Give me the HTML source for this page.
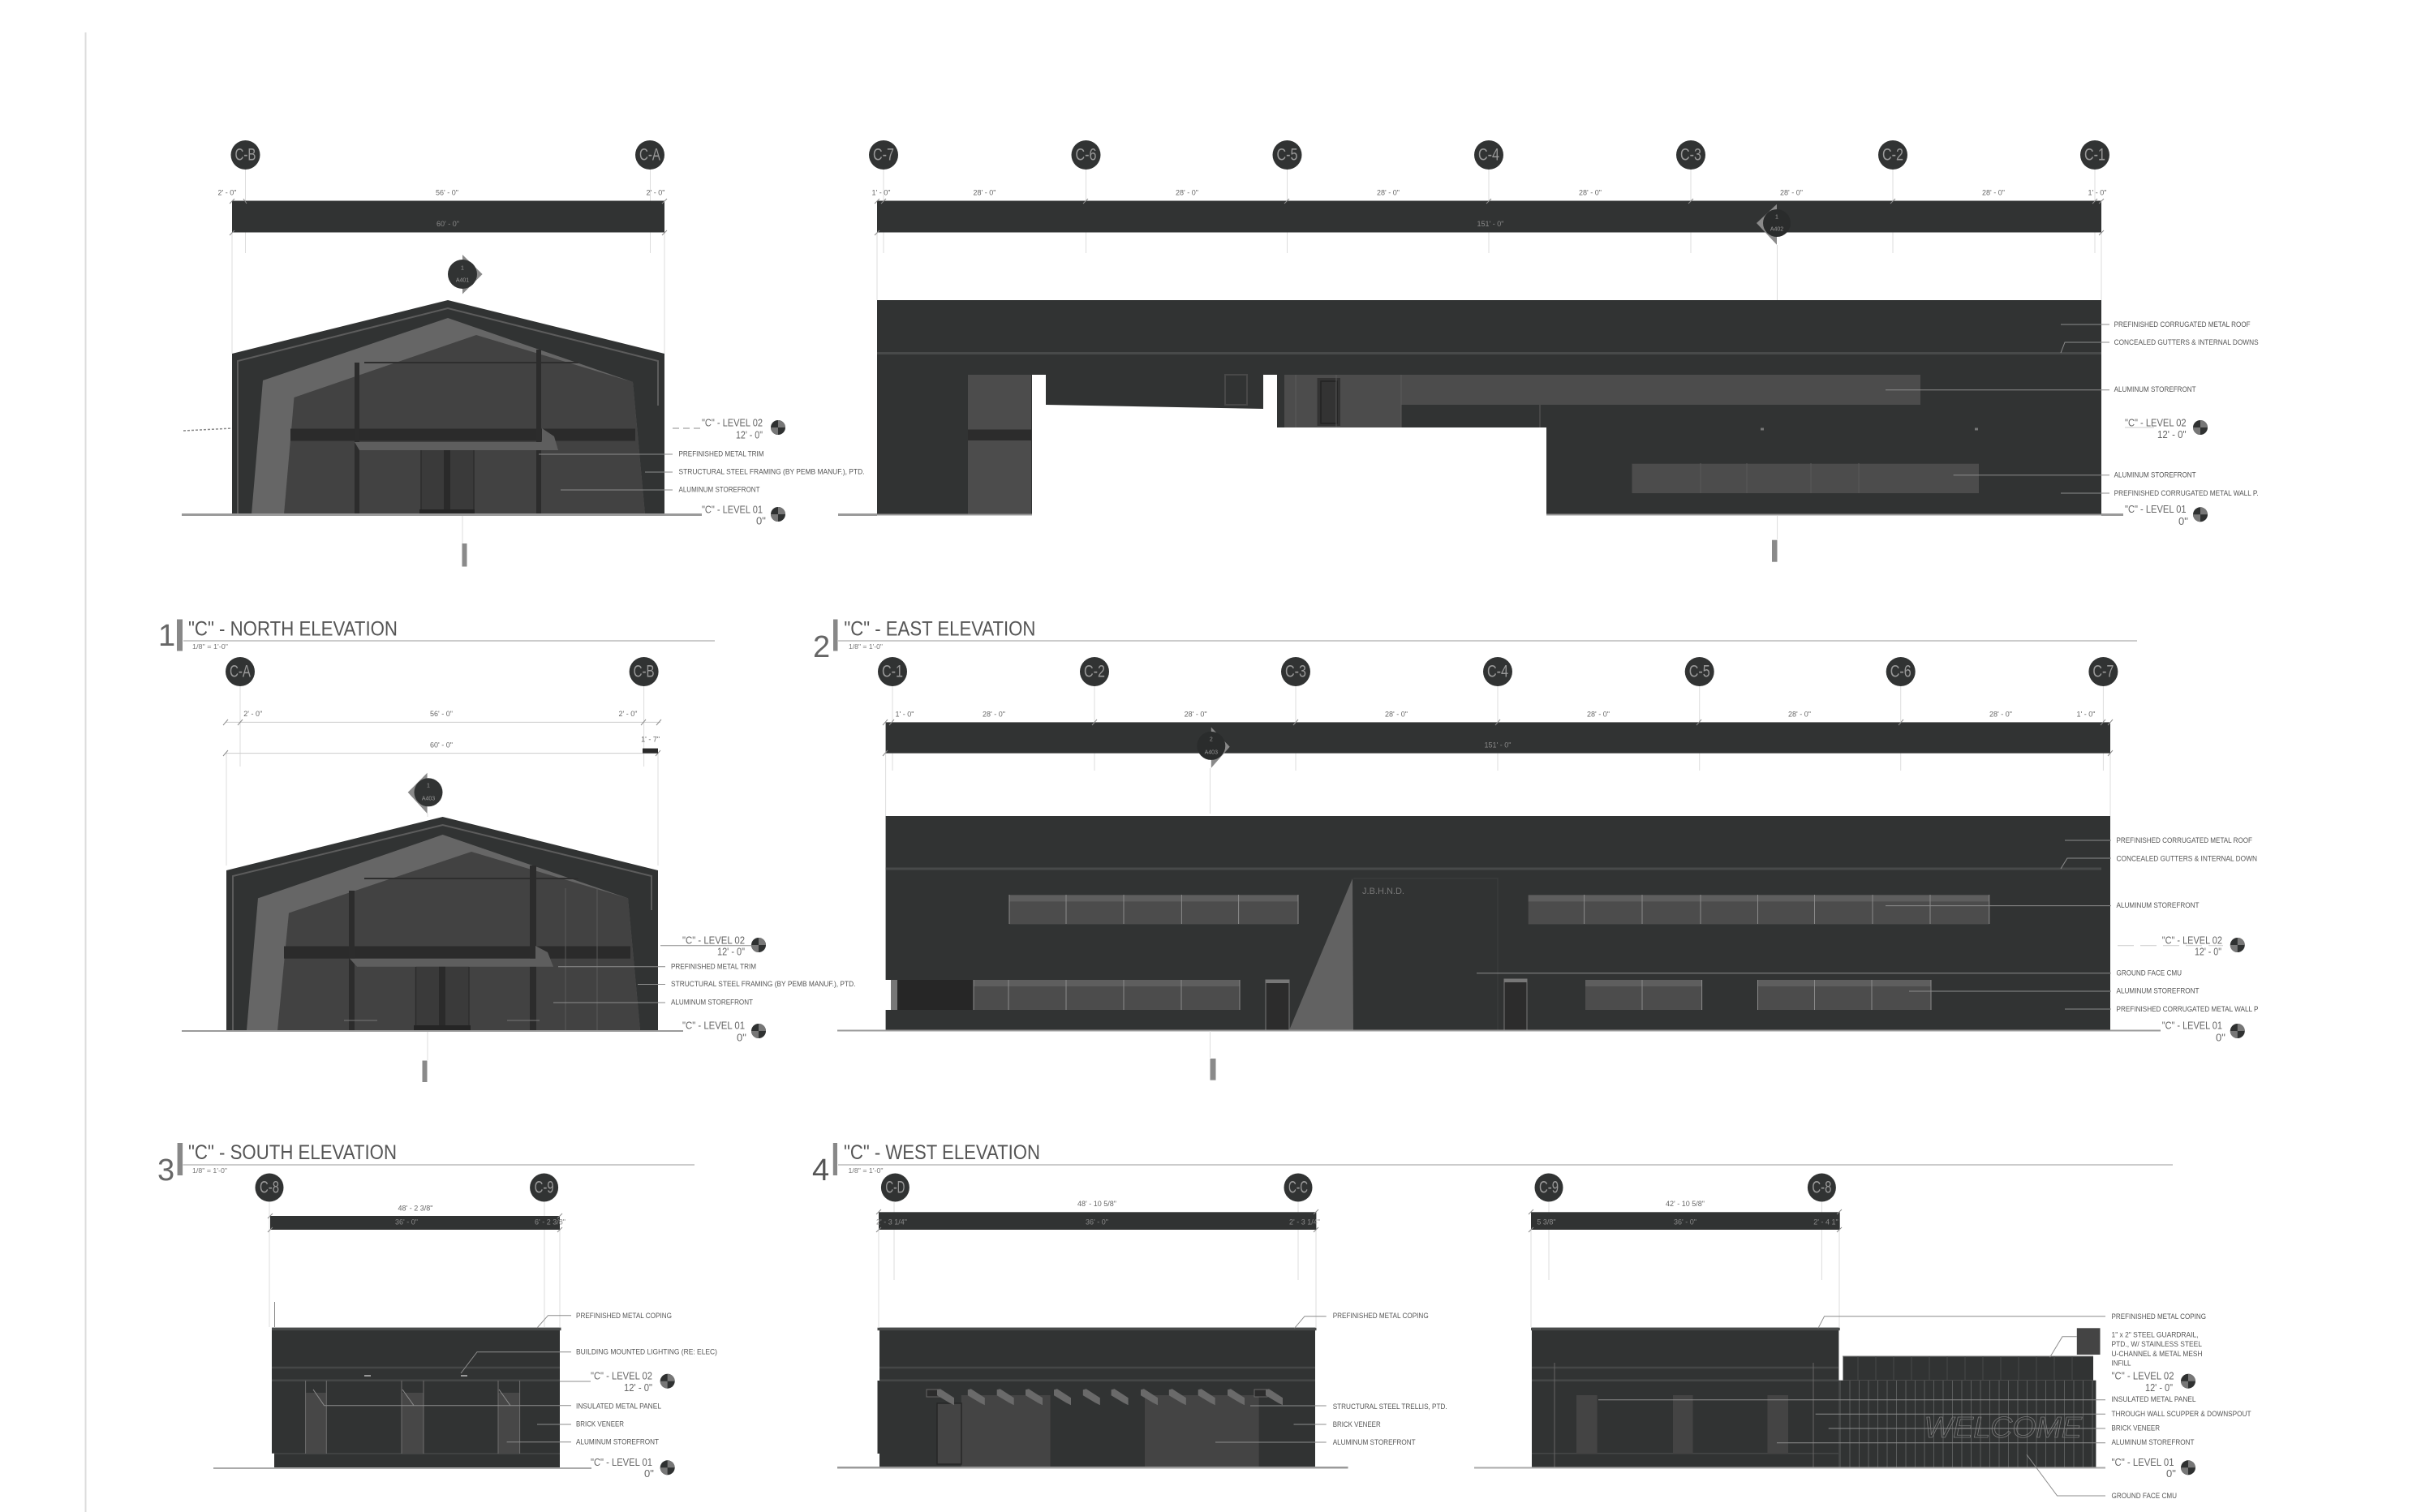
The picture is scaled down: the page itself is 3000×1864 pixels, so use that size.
<!DOCTYPE html>
<html>
<head>
<meta charset="utf-8">
<style>
html,body{margin:0;padding:0;background:#fff;width:3000px;height:1864px;overflow:hidden}
svg{display:block}
text{font-family:"Liberation Sans",sans-serif;dominant-baseline:central}
.n{font-size:9.5px;fill:#555}
.d{font-size:9px;fill:#666;text-anchor:middle}
.b{font-size:9px;fill:#8a8a8a;text-anchor:middle}
.l{font-size:13px;fill:#666}
.g{font-size:21px;fill:#999;text-anchor:middle}
.t{font-size:25px;fill:#555}
.u{font-size:38px;fill:#666}
.s{font-size:8px;fill:#777}
.m{font-size:7px;fill:#999;text-anchor:middle}
.ld{stroke:#8c8c8c;stroke-width:1;fill:none}
.x{stroke:#ddd;stroke-width:1;fill:none}
.gr{stroke:#9a9a9a;stroke-width:3;fill:none}
.dk{fill:#313333}
.w{fill:#4c4c4c}
.ln{stroke:#454747;stroke-width:2.5}
.mu{stroke:#8a8a8a;stroke-width:1}
.tr{fill:#6e6e6e}
</style>
</head>
<body>
<svg xmlns="http://www.w3.org/2000/svg" width="3000" height="1864" viewBox="0 0 3000 1864">
<defs>
<g id="lv"><circle r="9" fill="#2f3131"/><path d="M0 0V-9A9 9 0 0 1 9 0Z" fill="#777"/><path d="M0 0V9A9 9 0 0 1 -9 0Z" fill="#777"/></g>
<polygon id="lo" points="0,0 4,-1 21,10 21,19 15,16 0,7" fill="#6a6a6a"/>
</defs>
<rect width="3000" height="1864" fill="#fff"/>
<line x1="105.500" y1="40" x2="105.500" y2="1864" stroke="#dcdcdc" stroke-width="2"/>

<!-- ============ ROW 1 NORTH ============ -->
<path class="x" d="M302.500 208V312M801.500 208V312M286 286V436M819 286V436"/>
<circle cx="302.500" cy="191" r="18" class="dk"/><text class="g" x="302.500" y="191" textLength="26" lengthAdjust="spacingAndGlyphs">C-B</text>
<circle cx="801" cy="191" r="18" class="dk"/><text class="g" x="801" y="191" textLength="26" lengthAdjust="spacingAndGlyphs">C-A</text>
<text class="d" x="280" y="237.500">2' - 0"</text><text class="d" x="551" y="237.500">56' - 0"</text><text class="d" x="808" y="237.500">2' - 0"</text>
<rect x="286" y="247.500" width="533" height="39" class="dk"/>
<path class="ld" d="M283 251l6-6M304 251l-4-6M816 251l6-6M283 290l6-6M816 290l6-6"/>
<text class="b" x="552" y="276">60' - 0"</text>
<polygon points="570,314 594.600,338 570,362.500" fill="#8a8a8a"/>
<circle cx="570" cy="338" r="18" class="dk"/><text class="m" x="570" y="331">1</text><text class="m" x="570" y="346">A401</text>
<polygon points="286,436 552,370 819,436 819,634 286,634" class="dk"/>
<path d="M293 634V445L552 380L811 445V500" fill="none" stroke="#5c5c5c" stroke-width="2"/>
<polygon points="310,634 324,469 552,392 780,471 795,634" fill="#666"/>
<polygon points="350,634 362.500,490 587,413 780,471 795,634" fill="#424242"/>
<path d="M449 447H713" stroke="#2e2e2e" stroke-width="2"/>
<rect x="358" y="528.500" width="425" height="15" fill="#2b2b2b"/>
<rect x="437" y="447" width="6" height="187" fill="#2c2c2c"/><rect x="661" y="431" width="6" height="203" fill="#2c2c2c"/>
<polygon points="437,545 668,545 668,528 683,538 688,555 443,555" fill="#5e5e5e"/>
<rect x="519" y="555" width="65" height="79" fill="#3a3a3a"/><rect x="547" y="555" width="8" height="79" fill="#2a2a2a"/>
<path d="M519 555V634M584 555V634" stroke="#2c2c2c" stroke-width="1.500"/>
<rect x="517" y="628" width="68" height="6" fill="#252525"/>
<line class="gr" x1="224" y1="634.500" x2="865" y2="634.500"/>
<path d="M226 531L286 528" stroke="#888" stroke-width="1.500" stroke-dasharray="3 2"/>
<path class="ld" d="M664 560H829M795 582H829M691 604H829"/>
<path class="ld" d="M829 528H865" stroke-dasharray="8 5"/>
<text class="l" x="865" y="521" textLength="75" lengthAdjust="spacingAndGlyphs">"C" - LEVEL 02</text>
<text class="l" x="907" y="536" textLength="33" lengthAdjust="spacingAndGlyphs">12' - 0"</text>
<use href="#lv" x="959" y="527"/>
<text class="l" x="865" y="628" textLength="75" lengthAdjust="spacingAndGlyphs">"C" - LEVEL 01</text>
<text class="l" x="932" y="642">0"</text>
<use href="#lv" x="959" y="634"/>
<text class="n" x="836.500" y="560" textLength="105" lengthAdjust="spacingAndGlyphs">PREFINISHED METAL TRIM</text>
<text class="n" x="836.500" y="582" textLength="229" lengthAdjust="spacingAndGlyphs">STRUCTURAL STEEL FRAMING (BY PEMB MANUF.), PTD.</text>
<text class="n" x="836.500" y="604" textLength="100" lengthAdjust="spacingAndGlyphs">ALUMINUM STOREFRONT</text>
<line x1="570" y1="636" x2="570" y2="670" class="x"/>
<rect x="569.500" y="670" width="6" height="28.500" fill="#8a8a8a"/>

<text class="u" x="195" y="784">1</text>
<rect x="218" y="763.500" width="7" height="39" fill="#888"/>
<text class="t" x="232" y="775.500" textLength="258" lengthAdjust="spacingAndGlyphs">"C" - NORTH ELEVATION</text>
<line x1="226" y1="790" x2="881" y2="790" stroke="#ccc" stroke-width="2"/>
<text class="s" x="237" y="797.500" textLength="44" lengthAdjust="spacingAndGlyphs">1/8" = 1'-0"</text>

<!-- ============ ROW 1 EAST ============ -->
<path class="x" d="M1089 208V312M1338.500 208V312M1586.500 208V312M1835 208V312M2084 208V312M2333 208V312M2582 208V312M1081 286V370M2590 286V370M2190.500 302V370"/>
<g>
<circle cx="1089" cy="191" r="18" class="dk"/><text class="g" x="1089" y="191" textLength="26" lengthAdjust="spacingAndGlyphs">C-7</text>
<circle cx="1338.500" cy="191" r="18" class="dk"/><text class="g" x="1338.500" y="191" textLength="26" lengthAdjust="spacingAndGlyphs">C-6</text>
<circle cx="1586.500" cy="191" r="18" class="dk"/><text class="g" x="1586.500" y="191" textLength="26" lengthAdjust="spacingAndGlyphs">C-5</text>
<circle cx="1835" cy="191" r="18" class="dk"/><text class="g" x="1835" y="191" textLength="26" lengthAdjust="spacingAndGlyphs">C-4</text>
<circle cx="2084" cy="191" r="18" class="dk"/><text class="g" x="2084" y="191" textLength="26" lengthAdjust="spacingAndGlyphs">C-3</text>
<circle cx="2333" cy="191" r="18" class="dk"/><text class="g" x="2333" y="191" textLength="26" lengthAdjust="spacingAndGlyphs">C-2</text>
<circle cx="2582" cy="191" r="18" class="dk"/><text class="g" x="2582" y="191" textLength="26" lengthAdjust="spacingAndGlyphs">C-1</text>
</g>
<text class="d" x="1086" y="237.500">1' - 0"</text><text class="d" x="1213.500" y="237.500">28' - 0"</text><text class="d" x="1463" y="237.500">28' - 0"</text><text class="d" x="1711" y="237.500">28' - 0"</text><text class="d" x="1960" y="237.500">28' - 0"</text><text class="d" x="2208" y="237.500">28' - 0"</text><text class="d" x="2457" y="237.500">28' - 0"</text><text class="d" x="2585" y="237.500">1' - 0"</text>
<rect x="1081" y="247.500" width="1509" height="39" class="dk"/>
<path class="ld" d="M1078 251l6-6M1086 251l6-6M1335 251l6-6M1583 251l6-6M1832 251l6-6M2081 251l6-6M2330 251l6-6M2579 251l6-6M2587 251l6-6M1078 290l6-6M2587 290l6-6"/>
<text class="b" x="1837" y="276">151' - 0"</text>
<polygon points="2190,251.700 2165,275 2190,301.700" fill="#8a8a8a"/>
<circle cx="2190" cy="275" r="17" fill="#2a2c2c"/><text class="m" x="2190" y="268">1</text><text class="m" x="2190" y="283">A402</text>

<polygon class="dk" points="1081,370 2590,370 2590,634 1906,634 1906,527 1574,527 1574,462 1557,462 1557,504 1289,499 1289,462 1272,462 1272,634 1081,634"/>
<line x1="1081" y1="435.500" x2="2590" y2="435.500" stroke="#484a4a" stroke-width="3"/>
<rect x="1193" y="462" width="78" height="172" class="w"/>
<rect x="1193" y="529.500" width="78" height="13.500" fill="#2c2c2c"/>
<rect x="1510" y="462" width="27" height="37" fill="none" stroke="#484848" stroke-width="2"/>
<rect x="1583" y="462" width="784" height="37" class="w"/>
<rect x="1583" y="499" width="144.500" height="28" class="w"/>
<rect x="1623.500" y="466" width="28.500" height="59" fill="#333"/>
<rect x="1628" y="470" width="20" height="52" fill="none" stroke="#222" stroke-width="1.500"/>
<path d="M1597 462V527M1647 462V527M1727 462V527M1898 499V527" stroke="#5a5a5a" stroke-width="1"/>
<rect x="2011.500" y="571.700" width="427.500" height="36.300" class="w"/>
<path d="M2096 571V608M2153 571V608M2232 571V608M2291 571V608" stroke="#585858" stroke-width="1"/>
<rect x="2170" y="527.500" width="4" height="3" fill="#777"/><rect x="2434" y="527.500" width="4" height="3" fill="#777"/>
<path d="M1081 634.500H1272M1906 634.500H2590" stroke="#9a9a9a" stroke-width="2"/>
<path d="M1033 634.500H1081M2590 634.500H2617" stroke="#9a9a9a" stroke-width="3"/>
<path class="ld" d="M2540 400H2600M2540 435L2545 422H2600M2324 480.700H2600M2407.600 585.700H2600M2540 608H2600"/>
<path d="M2619 527H2655" stroke="#ccc" stroke-width="1"/>
<text class="n" x="2605.600" y="400.700" textLength="168" lengthAdjust="spacingAndGlyphs">PREFINISHED CORRUGATED METAL ROOF</text>
<text class="n" x="2605.600" y="422.700" textLength="178" lengthAdjust="spacingAndGlyphs">CONCEALED GUTTERS &amp; INTERNAL DOWNS</text>
<text class="n" x="2605.600" y="480.700" textLength="101" lengthAdjust="spacingAndGlyphs">ALUMINUM STOREFRONT</text>
<text class="n" x="2605.600" y="586" textLength="101" lengthAdjust="spacingAndGlyphs">ALUMINUM STOREFRONT</text>
<text class="n" x="2605.600" y="608.300" textLength="178" lengthAdjust="spacingAndGlyphs">PREFINISHED CORRUGATED METAL WALL P.</text>
<text class="l" x="2619" y="521" textLength="75.600" lengthAdjust="spacingAndGlyphs">"C" - LEVEL 02</text>
<text class="l" x="2659" y="535.700" textLength="35.600" lengthAdjust="spacingAndGlyphs">12' - 0"</text>
<use href="#lv" x="2712" y="527"/>
<text class="l" x="2619" y="627.700" textLength="75.600" lengthAdjust="spacingAndGlyphs">"C" - LEVEL 01</text>
<text class="l" x="2685" y="642.700">0"</text>
<use href="#lv" x="2712" y="634.300"/>
<line x1="2190.600" y1="636" x2="2190.600" y2="665" class="x"/>
<rect x="2184" y="665.700" width="6.500" height="27" fill="#8a8a8a"/>

<text class="u" x="1002" y="798" style="font-size:38px">2</text>
<rect x="1027" y="763.500" width="5.500" height="39" fill="#888"/>
<text class="t" x="1040.400" y="775.500" textLength="236" lengthAdjust="spacingAndGlyphs">"C" - EAST ELEVATION</text>
<line x1="1033" y1="790" x2="2634" y2="790" stroke="#ccc" stroke-width="2"/>
<text class="s" x="1046" y="797.500" textLength="42" lengthAdjust="spacingAndGlyphs">1/8" = 1'-0"</text>

<!-- ============ ROW 2 SOUTH ============ -->
<path class="x" d="M296 846V945M793.600 846V945M279 928V1067M811 928V1067M527 1003V1007"/>
<path d="M278 890.400H814M278 928.600H811" stroke="#ccc" stroke-width="1"/>
<path class="ld" d="M275 894l6-7M293 894l6-7M790 894l6-7M809 894l6-7M275 932l6-7M808 932l6-7"/>
<circle cx="296" cy="828" r="18" class="dk"/><text class="g" x="296" y="828" textLength="26" lengthAdjust="spacingAndGlyphs">C-A</text>
<circle cx="793.600" cy="828" r="18" class="dk"/><text class="g" x="793.600" y="828" textLength="26" lengthAdjust="spacingAndGlyphs">C-B</text>
<text class="d" x="311.700" y="880">2' - 0"</text><text class="d" x="544" y="880">56' - 0"</text><text class="d" x="774" y="880">2' - 0"</text>
<text class="d" x="544" y="918.600">60' - 0"</text><text class="d" x="801.600" y="911.700">1' - 7"</text>
<rect x="792" y="922.600" width="19" height="6" fill="#2a2a2a"/>
<polygon points="526.600,952.700 502.700,976.800 526.600,1003" fill="#8a8a8a"/>
<circle cx="528" cy="976.800" r="17.500" class="dk"/><text class="m" x="528" y="969">1</text><text class="m" x="528" y="985">A403</text>
<polygon class="dk" points="279,1073 545.600,1007 811,1073 811,1270 279,1270"/>
<path d="M287 1270V1080L545.600 1017L803 1080V1122" fill="none" stroke="#5c5c5c" stroke-width="2"/>
<polygon points="304,1270 318,1107.400 545.600,1029 774,1107.400 789,1270" fill="#666"/>
<polygon points="342,1270 356,1125.500 581,1050 774,1107.400 789,1270" fill="#424242"/>
<path d="M449 1083H713" stroke="#2e2e2e" stroke-width="2"/>
<rect x="350" y="1166.500" width="427" height="15.200" fill="#2b2b2b"/>
<rect x="430" y="1098" width="7" height="172" fill="#2c2c2c"/><rect x="653" y="1067" width="8" height="203" fill="#2c2c2c"/>
<path d="M697 1095V1270M736 1095V1270" stroke="#5a5a5a" stroke-width="1"/>
<polygon points="431,1181.700 660,1181.700 660,1166 675,1174 682,1191.800 440,1191.800" fill="#5e5e5e"/>
<rect x="512.500" y="1191.800" width="65.500" height="78" fill="#3a3a3a"/><rect x="541" y="1191.800" width="8" height="78" fill="#2a2a2a"/>
<path d="M512.500 1192V1270M578 1192V1270" stroke="#2c2c2c" stroke-width="1.500"/>
<rect x="510" y="1264" width="70" height="6" fill="#252525"/>
<path d="M424 1258H465M625 1258H665" stroke="#777" stroke-width="1"/>
<line class="gr" x1="224" y1="1271" x2="842" y2="1271" style="stroke-width:2"/>
<path class="ld" d="M688 1191.800H820M786 1213.500H820M682 1236H820M814 1165.700H927"/>
<text class="l" x="841" y="1159" textLength="77" lengthAdjust="spacingAndGlyphs">"C" - LEVEL 02</text>
<text class="l" x="884" y="1173" textLength="34" lengthAdjust="spacingAndGlyphs">12' - 0"</text>
<use href="#lv" x="935" y="1165"/>
<text class="l" x="841" y="1264" textLength="77" lengthAdjust="spacingAndGlyphs">"C" - LEVEL 01</text>
<text class="l" x="908" y="1279">0"</text>
<use href="#lv" x="935" y="1271"/>
<text class="n" x="827" y="1191.800" textLength="105" lengthAdjust="spacingAndGlyphs">PREFINISHED METAL TRIM</text>
<text class="n" x="827" y="1213.500" textLength="227.500" lengthAdjust="spacingAndGlyphs">STRUCTURAL STEEL FRAMING (BY PEMB MANUF.), PTD.</text>
<text class="n" x="827" y="1236" textLength="101" lengthAdjust="spacingAndGlyphs">ALUMINUM STOREFRONT</text>
<line x1="527" y1="1272" x2="527" y2="1307" class="x"/>
<rect x="520.500" y="1307.500" width="6" height="26.500" fill="#8a8a8a"/>

<text class="u" x="194" y="1443">3</text>
<rect x="218.600" y="1409" width="6.500" height="40" fill="#888"/>
<text class="t" x="232" y="1421" textLength="257" lengthAdjust="spacingAndGlyphs">"C" - SOUTH ELEVATION</text>
<line x1="225.500" y1="1436" x2="856" y2="1436" stroke="#ccc" stroke-width="2"/>
<text class="s" x="237" y="1443.700" textLength="43" lengthAdjust="spacingAndGlyphs">1/8" = 1'-0"</text>

<!-- ============ ROW 2 EAST/WEST LONG ============ -->
<path class="x" d="M1100 846V950M1349 846V950M1597 846V950M1846 846V950M2094.700 846V950M2342.700 846V950M2592.400 846V950M1091.600 928V1006M2601 928V1006M1491.500 947V1003"/>
<circle cx="1100" cy="828" r="18" class="dk"/><text class="g" x="1100" y="828" textLength="26" lengthAdjust="spacingAndGlyphs">C-1</text>
<circle cx="1349" cy="828" r="18" class="dk"/><text class="g" x="1349" y="828" textLength="26" lengthAdjust="spacingAndGlyphs">C-2</text>
<circle cx="1597" cy="828" r="18" class="dk"/><text class="g" x="1597" y="828" textLength="26" lengthAdjust="spacingAndGlyphs">C-3</text>
<circle cx="1846" cy="828" r="18" class="dk"/><text class="g" x="1846" y="828" textLength="26" lengthAdjust="spacingAndGlyphs">C-4</text>
<circle cx="2094.700" cy="828" r="18" class="dk"/><text class="g" x="2094.700" y="828" textLength="26" lengthAdjust="spacingAndGlyphs">C-5</text>
<circle cx="2342.700" cy="828" r="18" class="dk"/><text class="g" x="2342.700" y="828" textLength="26" lengthAdjust="spacingAndGlyphs">C-6</text>
<circle cx="2592.400" cy="828" r="18" class="dk"/><text class="g" x="2592.400" y="828" textLength="26" lengthAdjust="spacingAndGlyphs">C-7</text>
<text class="d" x="1115" y="880.400">1' - 0"</text><text class="d" x="1225" y="880.400">28' - 0"</text><text class="d" x="1473.600" y="880.400">28' - 0"</text><text class="d" x="1721" y="880.400">28' - 0"</text><text class="d" x="1970" y="880.400">28' - 0"</text><text class="d" x="2218" y="880.400">28' - 0"</text><text class="d" x="2466" y="880.400">28' - 0"</text><text class="d" x="2571" y="880.400">1' - 0"</text>
<rect x="1091.600" y="890.400" width="1509.400" height="38.200" class="dk"/>
<path class="ld" d="M1088 894l6-7M1096 894l6-7M1346 894l6-7M1594 894l6-7M1843 894l6-7M2091 894l6-7M2340 894l6-7M2589 894l6-7M2598 894l6-7M1088 932l6-7M2598 932l6-7"/>
<text class="b" x="1846" y="918.600">151' - 0"</text>
<polygon points="1492.800,896.500 1515.700,920.600 1492.800,946.700" fill="#8a8a8a"/>
<circle cx="1492.800" cy="919.400" r="17.500" fill="#2a2c2c"/><text class="m" x="1492.800" y="912">2</text><text class="m" x="1492.800" y="928">A403</text>

<rect x="1091.600" y="1006" width="1509.400" height="264" class="dk"/>
<line x1="1091.600" y1="1071" x2="2590" y2="1071" stroke="#484a4a" stroke-width="3"/>
<rect x="1091" y="1208" width="7" height="37" fill="#fff"/><rect x="1098" y="1208" width="8" height="37" fill="#777"/>
<rect x="1106" y="1208" width="94" height="37" fill="#262626"/>
<!-- windows -->
<g class="w">
<rect x="1244" y="1103.400" width="356" height="36"/>
<rect x="1883.700" y="1103.400" width="568" height="36"/>
<rect x="1200" y="1208" width="328" height="37"/>
<rect x="1954" y="1208" width="143.600" height="37"/>
<rect x="2166.500" y="1208" width="213.500" height="37"/>
</g>
<g fill="#5e5e5e">
<rect x="1244" y="1103.400" width="356" height="8"/>
<rect x="1883.700" y="1103.400" width="568" height="8"/>
<rect x="1200" y="1208" width="328" height="8"/>
<rect x="1954" y="1208" width="143.600" height="8"/>
<rect x="2166.500" y="1208" width="213.500" height="8"/>
</g>
<path class="mu" d="M1244 1103V1139M1314 1103V1139M1385 1103V1139M1456.400 1103V1139M1526.600 1103V1139M1600 1103V1139M1952.600 1103V1139M2024 1103V1139M2096 1103V1139M2166.500 1103V1139M2236.500 1103V1139M2308 1103V1139M2379 1103V1139M2451.800 1103V1139M1200 1208V1245M1243 1208V1245M1314 1208V1245M1385 1208V1245M1456 1208V1245M1528 1208V1245M2024 1208V1245M2097.600 1208V1245M2166.500 1208V1245M2236.500 1208V1245M2307 1208V1245M2380 1208V1245"/>
<rect x="1560" y="1208" width="29" height="62" fill="#2c2c2c" stroke="#777" stroke-width="1"/><rect x="1560" y="1208" width="29" height="4" fill="#777"/>
<rect x="1854" y="1207" width="28" height="63" fill="#2c2c2c" stroke="#777" stroke-width="1"/><rect x="1854" y="1207" width="28" height="4" fill="#777"/>
<polygon points="1589,1270 1667,1083 1668,1270" fill="#626262"/>
<path d="M1668 1083H1846V1270" fill="none" stroke="#3d3f3f" stroke-width="1"/>
<text x="1705" y="1099" style="font-size:11px;fill:#777;text-anchor:middle" textLength="52" lengthAdjust="spacingAndGlyphs">J.B.H.N.D.</text>
<path d="M1091 1270.500H2601" stroke="#9a9a9a" stroke-width="2"/>
<path d="M1032 1270.500H1091M2601 1270.500H2663" stroke="#9a9a9a" stroke-width="2"/>
<path class="ld" d="M2545 1036H2602M2540 1071L2548 1058H2602M2324 1116.600H2602M1820 1199.800H2602M2353 1222H2602M2545 1244H2602"/>
<path d="M2610 1165.700H2740" stroke="#ccc" stroke-width="1" stroke-dasharray="20 8"/>
<text class="n" x="2608.500" y="1036.700" textLength="167.500" lengthAdjust="spacingAndGlyphs">PREFINISHED CORRUGATED METAL ROOF</text>
<text class="n" x="2608.500" y="1058.800" textLength="173.500" lengthAdjust="spacingAndGlyphs">CONCEALED GUTTERS &amp; INTERNAL DOWN</text>
<text class="n" x="2608.500" y="1116.600" textLength="102" lengthAdjust="spacingAndGlyphs">ALUMINUM STOREFRONT</text>
<text class="n" x="2608.500" y="1199.800" textLength="80.500" lengthAdjust="spacingAndGlyphs">GROUND FACE CMU</text>
<text class="n" x="2608.500" y="1222" textLength="102" lengthAdjust="spacingAndGlyphs">ALUMINUM STOREFRONT</text>
<text class="n" x="2608.500" y="1244.400" textLength="175" lengthAdjust="spacingAndGlyphs">PREFINISHED CORRUGATED METAL WALL P</text>
<text class="l" x="2664.700" y="1159" textLength="74.300" lengthAdjust="spacingAndGlyphs">"C" - LEVEL 02</text>
<text class="l" x="2705" y="1173" textLength="33" lengthAdjust="spacingAndGlyphs">12' - 0"</text>
<use href="#lv" x="2757.800" y="1165"/>
<text class="l" x="2664.700" y="1264" textLength="74.300" lengthAdjust="spacingAndGlyphs">"C" - LEVEL 01</text>
<text class="l" x="2731" y="1279">0"</text>
<use href="#lv" x="2757.800" y="1271"/>
<line x1="1491.500" y1="1271" x2="1491.500" y2="1304" class="x"/>
<rect x="1491.500" y="1305" width="7" height="26.600" fill="#8a8a8a"/>

<text class="u" x="1001" y="1443" style="fill:#555">4</text>
<rect x="1026.800" y="1409" width="5.200" height="40" fill="#888"/>
<text class="t" x="1040" y="1421" textLength="242" lengthAdjust="spacingAndGlyphs">"C" - WEST ELEVATION</text>
<line x1="1033" y1="1436" x2="2678" y2="1436" stroke="#ccc" stroke-width="2"/>
<text class="s" x="1045.500" y="1443.700" textLength="43" lengthAdjust="spacingAndGlyphs">1/8" = 1'-0"</text>

<!-- ============ ROW 3 SOUTH SMALL ============ -->
<path class="x" d="M332 1482V1636M671 1482V1636M690 1516V1636"/>
<path d="M338.500 1605V1636" stroke="#888" stroke-width="1"/>
<circle cx="332" cy="1464" r="17.500" class="dk"/><text class="g" x="332" y="1464" textLength="24" lengthAdjust="spacingAndGlyphs">C-8</text>
<circle cx="670.600" cy="1464" r="17.500" class="dk"/><text class="g" x="670.600" y="1464" textLength="24" lengthAdjust="spacingAndGlyphs">C-9</text>
<text class="d" x="512" y="1489.300">48' - 2 3/8"</text>
<rect x="333" y="1499" width="357" height="17" class="dk"/>
<text class="b" x="501" y="1506.700">36' - 0"</text><text class="b" x="678" y="1506.700">6' - 2 3/8"</text>
<path class="ld" d="M330 1502l6-6M687 1502l6-6M330 1519l6-6M687 1519l6-6"/>
<polygon class="dk" points="335,1636.700 691.500,1636.700 691.500,1640 690,1640 690,1809.300 338,1809.300 338,1791.700 335,1791.700"/>
<rect x="335" y="1636.700" width="356.500" height="3.500" fill="#484a4a"/>
<line class="ln" x1="335" y1="1686" x2="690" y2="1686"/><line class="ln" x1="335" y1="1701.700" x2="690" y2="1701.700"/>
<line class="ln" x1="338" y1="1792" x2="690" y2="1792" style="stroke-width:1.500"/>
<g fill="#474747">
<rect x="376.600" y="1717" width="25.700" height="75.700"/>
<rect x="495" y="1717" width="27" height="75.700"/>
<rect x="614" y="1717" width="26.600" height="75.700"/>
</g>
<path d="M376.600 1702V1792M402.300 1702V1792M495 1702V1792M522 1702V1792M614 1702V1792M640.600 1702V1792" stroke="#6e6e6e" stroke-width="1"/>
<path d="M449 1696h8M568 1696h8" stroke="#999" stroke-width="2"/>
<line x1="263" y1="1810" x2="729" y2="1810" stroke="#aaa" stroke-width="2"/>
<path class="ld" d="M662 1637L675.500 1621.700H704M568 1693L588 1666.700H704M386 1713L399.600 1732.700H704M496 1713L510 1732.700M615 1713L629 1732.700M662 1756H704M624.600 1777.700H704M690 1703H728"/>
<text class="n" x="710" y="1622.700" textLength="118" lengthAdjust="spacingAndGlyphs">PREFINISHED METAL COPING</text>
<text class="n" x="710" y="1667" textLength="174" lengthAdjust="spacingAndGlyphs">BUILDING MOUNTED LIGHTING (RE: ELEC)</text>
<text class="n" x="710" y="1734" textLength="105" lengthAdjust="spacingAndGlyphs">INSULATED METAL PANEL</text>
<text class="n" x="710" y="1756" textLength="59" lengthAdjust="spacingAndGlyphs">BRICK VENEER</text>
<text class="n" x="710" y="1778" textLength="102" lengthAdjust="spacingAndGlyphs">ALUMINUM STOREFRONT</text>
<text class="l" x="728" y="1696" textLength="76" lengthAdjust="spacingAndGlyphs">"C" - LEVEL 02</text>
<text class="l" x="769" y="1710.700" textLength="35" lengthAdjust="spacingAndGlyphs">12' - 0"</text>
<use href="#lv" x="822.700" y="1702.700"/>
<text class="l" x="728" y="1802.700" textLength="76" lengthAdjust="spacingAndGlyphs">"C" - LEVEL 01</text>
<text class="l" x="794" y="1816.700">0"</text>
<use href="#lv" x="822.700" y="1809.300"/>

<!-- ============ ROW 3 WEST ============ -->
<path class="x" d="M1083 1516V1636M1622 1516V1636M1102 1482V1578M1600 1482V1578"/>
<circle cx="1103.400" cy="1464" r="17.500" class="dk"/><text class="g" x="1103.400" y="1464" textLength="24" lengthAdjust="spacingAndGlyphs">C-D</text>
<circle cx="1600" cy="1464" r="17.500" class="dk"/><text class="g" x="1600" y="1464" textLength="24" lengthAdjust="spacingAndGlyphs">C-C</text>
<text class="d" x="1352" y="1484">48' - 10 5/8"</text>
<rect x="1083" y="1494.300" width="539.400" height="21.700" class="dk"/>
<text class="b" x="1352" y="1506.700">36' - 0"</text><text class="b" x="1099" y="1506.700">2' - 3 1/4"</text><text class="b" x="1608" y="1506.700">2' - 3 1/4"</text>
<path class="ld" d="M1080 1497l6-6M1619 1497l6-6M1080 1519l6-6M1619 1519l6-6"/>
<rect x="1084" y="1636.700" width="537" height="172" class="dk"/>
<rect x="1081.500" y="1636.700" width="541" height="3.500" fill="#484a4a"/>
<rect x="1081.500" y="1702" width="3" height="90" class="dk"/>
<line class="ln" x1="1084" y1="1686" x2="1621" y2="1686"/><line class="ln" x1="1084" y1="1701.700" x2="1621" y2="1701.700"/>
<rect x="1184.800" y="1720" width="109.800" height="88" fill="#444"/>
<rect x="1411" y="1720" width="140.700" height="88" fill="#444"/>
<rect x="1155" y="1730" width="30" height="75" fill="#444" stroke="#262626" stroke-width="1.500"/>
<rect x="1142" y="1713" width="16" height="9" fill="#2c2c2c" stroke="#666" stroke-width="1"/>
<rect x="1546" y="1713" width="16" height="9" fill="#2c2c2c" stroke="#666" stroke-width="1"/>
<use href="#lo" x="1155" y="1713.300"/>
<use href="#lo" x="1192.800" y="1713.300"/><use href="#lo" x="1228.700" y="1713.300"/><use href="#lo" x="1264" y="1713.300"/><use href="#lo" x="1299" y="1713.300"/><use href="#lo" x="1334.800" y="1713.300"/><use href="#lo" x="1369.600" y="1713.300"/><use href="#lo" x="1406" y="1713.300"/><use href="#lo" x="1440.800" y="1713.300"/><use href="#lo" x="1476.700" y="1713.300"/><use href="#lo" x="1513" y="1713.300"/><use href="#lo" x="1560" y="1713.300"/>
<line x1="1032" y1="1809.300" x2="1661.500" y2="1809.300" stroke="#9a9a9a" stroke-width="2.500"/>
<path class="ld" d="M1595.600 1637.300L1608 1622.700H1634.700M1541 1733H1634.700M1594.500 1756H1634.700M1498 1778H1634.700"/>
<text class="n" x="1642.700" y="1622.700" textLength="118" lengthAdjust="spacingAndGlyphs">PREFINISHED METAL COPING</text>
<text class="n" x="1642.700" y="1734.300" textLength="141" lengthAdjust="spacingAndGlyphs">STRUCTURAL STEEL TRELLIS, PTD.</text>
<text class="n" x="1642.700" y="1756.700" textLength="59" lengthAdjust="spacingAndGlyphs">BRICK VENEER</text>
<text class="n" x="1642.700" y="1778.700" textLength="102" lengthAdjust="spacingAndGlyphs">ALUMINUM STOREFRONT</text>

<!-- ============ ROW 3 NORTH-LIKE ============ -->
<path class="x" d="M1887 1516V1636M2267 1516V1636M1909 1482V1578M2245.400 1482V1578"/>
<circle cx="1909" cy="1464" r="17.500" class="dk"/><text class="g" x="1909" y="1464" textLength="24" lengthAdjust="spacingAndGlyphs">C-9</text>
<circle cx="2245.400" cy="1464" r="17.500" class="dk"/><text class="g" x="2245.400" y="1464" textLength="24" lengthAdjust="spacingAndGlyphs">C-8</text>
<text class="d" x="2077" y="1484">42' - 10 5/8"</text>
<rect x="1887" y="1494.300" width="380.700" height="21.700" class="dk"/>
<text class="b" x="2077" y="1506.700">36' - 0"</text><text class="b" x="1906" y="1506.700">5 3/8"</text><text class="b" x="2250.500" y="1506.700">2' - 4 1"</text>
<path class="ld" d="M1884 1497l6-6M2264 1497l6-6M1884 1519l6-6M2264 1519l6-6"/>
<rect x="1888" y="1636.700" width="378.400" height="172.600" class="dk"/>
<rect x="1887" y="1636.700" width="380.700" height="3.500" fill="#484a4a"/>
<line class="ln" x1="1888" y1="1686" x2="2266" y2="1686"/><line class="ln" x1="1888" y1="1701.700" x2="2266" y2="1701.700"/>
<line class="ln" x1="1888" y1="1791.700" x2="2266" y2="1791.700" style="stroke-width:1.500"/>
<rect x="1943" y="1720" width="25.600" height="71.700" fill="#444"/>
<rect x="2062" y="1720" width="24.600" height="71.700" fill="#444"/>
<rect x="2178.400" y="1720" width="25.600" height="71.700" fill="#444"/>
<path d="M1916 1680V1809M2235 1680V1809" stroke="#666" stroke-width="1"/>
<rect x="2266.400" y="1701.700" width="317" height="107.600" class="dk"/>
<rect x="2271.500" y="1671.700" width="308.500" height="30" class="dk"/>
<path d="M2271 1672H2580" stroke="#777" stroke-width="1"/>
<path d="M2290 1672V1701M2312 1672V1701M2334 1672V1701M2356 1672V1701M2378 1672V1701M2400 1672V1701M2422 1672V1701M2444 1672V1701M2466 1672V1701M2488 1672V1701M2510 1672V1701M2532 1672V1701M2554 1672V1701" stroke="#484a4a" stroke-width="1"/>
<path d="M2268 1702V1809M2280 1702V1809M2291.500 1702V1809M2303 1702V1809M2314.500 1702V1809M2326 1702V1809M2337.500 1702V1809M2349 1702V1809M2360.500 1702V1809M2372 1702V1809M2383.500 1702V1809M2395 1702V1809M2406.500 1702V1809M2418 1702V1809M2429.500 1702V1809M2441 1702V1809M2452.500 1702V1809M2464 1702V1809M2475.500 1702V1809M2487 1702V1809M2498.500 1702V1809M2510 1702V1809M2521.500 1702V1809M2533 1702V1809M2544.500 1702V1809M2556 1702V1809M2567.500 1702V1809M2579 1702V1809" stroke="#5a5c5c" stroke-width="1"/>
<rect x="2559.800" y="1637.300" width="28.700" height="32.700" fill="#444"/>
<text x="2371.600" y="1759.500" textLength="194.400" lengthAdjust="spacingAndGlyphs" style="font-size:36px;fill:none;stroke:#7a7a7a;stroke-width:.8;font-style:italic">WELCOME</text>
<line x1="1817" y1="1809.500" x2="2595" y2="1809.500" stroke="#aaa" stroke-width="2"/>
<path class="ld" d="M2241 1637.300L2248.600 1622.700H2595M2526.600 1673.300L2542 1647.700H2559.800M1970 1725.700H2595M2237.700 1743.300H2595M2253.700 1761H2595M2190 1778.700H2595M2498 1793.300L2535.600 1844H2595"/>
<text class="n" x="2602.500" y="1623.300" textLength="116.500" lengthAdjust="spacingAndGlyphs">PREFINISHED METAL COPING</text>
<text class="n" x="2602.500" y="1646" textLength="107" lengthAdjust="spacingAndGlyphs">1" x 2" STEEL GUARDRAIL,</text>
<text class="n" x="2602.500" y="1657.700" textLength="111.500" lengthAdjust="spacingAndGlyphs">PTD., W/ STAINLESS STEEL</text>
<text class="n" x="2602.500" y="1669.300" textLength="112" lengthAdjust="spacingAndGlyphs">U-CHANNEL &amp; METAL MESH</text>
<text class="n" x="2602.500" y="1681" textLength="24" lengthAdjust="spacingAndGlyphs">INFILL</text>
<text class="n" x="2602.500" y="1725.700" textLength="104" lengthAdjust="spacingAndGlyphs">INSULATED METAL PANEL</text>
<text class="n" x="2602.500" y="1743.300" textLength="172" lengthAdjust="spacingAndGlyphs">THROUGH WALL SCUPPER &amp; DOWNSPOUT</text>
<text class="n" x="2602.500" y="1761" textLength="59.500" lengthAdjust="spacingAndGlyphs">BRICK VENEER</text>
<text class="n" x="2602.500" y="1778.700" textLength="102" lengthAdjust="spacingAndGlyphs">ALUMINUM STOREFRONT</text>
<text class="n" x="2602.500" y="1844.300" textLength="80.500" lengthAdjust="spacingAndGlyphs">GROUND FACE CMU</text>
<text class="l" x="2602.500" y="1696" textLength="77" lengthAdjust="spacingAndGlyphs">"C" - LEVEL 02</text>
<text class="l" x="2644" y="1710.700" textLength="34" lengthAdjust="spacingAndGlyphs">12' - 0"</text>
<use href="#lv" x="2697" y="1702.700"/>
<text class="l" x="2602.500" y="1802.700" textLength="77" lengthAdjust="spacingAndGlyphs">"C" - LEVEL 01</text>
<text class="l" x="2670" y="1816.700">0"</text>
<use href="#lv" x="2697" y="1809.300"/>
</svg>
</body>
</html>
